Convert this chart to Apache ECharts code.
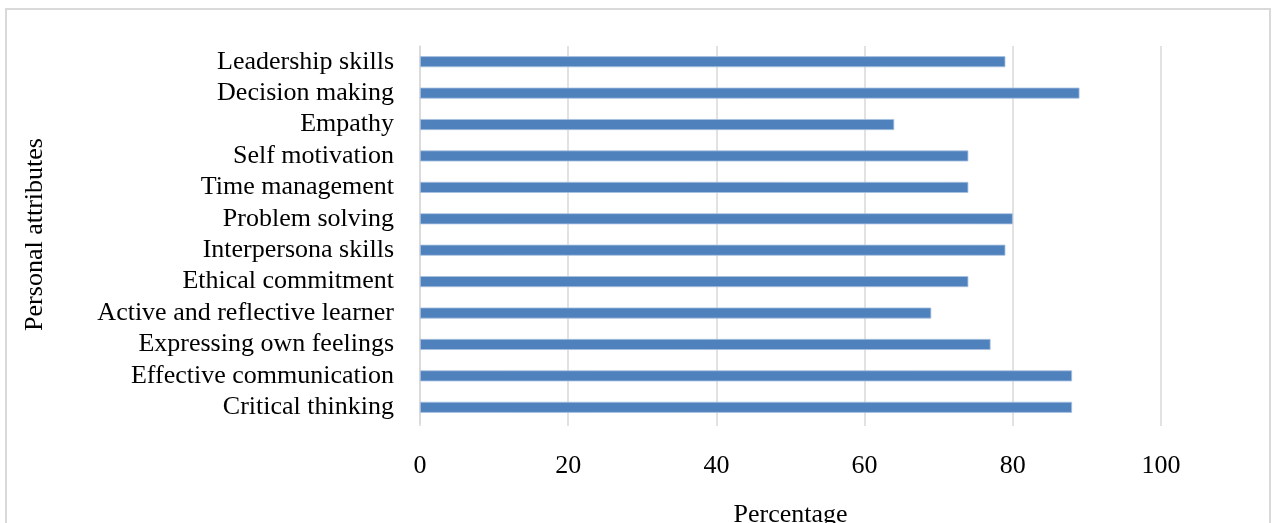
<!DOCTYPE html>
<html>
<head>
<meta charset="utf-8">
<script src="https://cdn.jsdelivr.net/npm/echarts@6/dist/echarts.min.js"></script>
<style>
  html, body { margin: 0; padding: 0; background: #fff; overflow: hidden; width: 1274px; height: 523px; }
  #frame { position: absolute; left: 5px; top: 8px; width: 1266px; height: 530px; border: 2px solid #d9d9d9; box-sizing: border-box; }
  #chart { position: absolute; left: 0; top: 0; width: 1274px; height: 523px; }
</style>
</head>
<body>
<div id="frame"></div>
<div id="chart"></div>
<script>
// Personal attributes, listed top to bottom
const categories = [
  'Leadership skills',
  'Decision making',
  'Empathy',
  'Self motivation',
  'Time management',
  'Problem solving',
  'Interpersona skills',
  'Ethical commitment',
  'Active and reflective learner',
  'Expressing own feelings',
  'Effective communication',
  'Critical thinking'
];
// Share of respondents (%)
const percentages = [79, 89, 64, 74, 74, 80, 79, 74, 69, 77, 88, 88];
const xTicks = [0, 20, 40, 60, 80, 100];

const font = '"Liberation Serif", "Times New Roman", serif';
const chart = echarts.init(document.getElementById('chart'), null, { renderer: 'canvas' });
chart.setOption({
  animation: false,
  backgroundColor: 'transparent',
  grid: { left: 420, right: 113, top: 46, bottom: 100, containLabel: false, outerBoundsMode: 'none' },
  xAxis: {
    type: 'value',
    min: xTicks[0],
    max: xTicks[xTicks.length - 1],
    interval: 20,
    name: 'Percentage',
    nameLocation: 'middle',
    nameGap: 79,
    nameTextStyle: { fontFamily: font, fontSize: 26, color: '#000' },
    axisLine: { show: false },
    axisTick: { show: true, length: 3, lineStyle: { color: '#d9d9d9', width: 1.5 } },
    axisLabel: { margin: 30, fontFamily: font, fontSize: 26, color: '#000' },
    splitLine: { show: true, lineStyle: { color: '#d9d9d9', width: 1.5 } }
  },
  yAxis: {
    type: 'category',
    data: categories,
    inverse: true,
    name: 'Personal attributes',
    nameLocation: 'middle',
    nameRotate: 90,
    nameGap: 372,
    nameTextStyle: { fontFamily: font, fontSize: 26, color: '#000' },
    axisLine: { show: true, lineStyle: { color: '#d9d9d9', width: 1.5 } },
    axisTick: { show: false },
    axisLabel: { interval: 0, margin: 26, fontFamily: font, fontSize: 26, color: '#000' },
    splitLine: { show: false }
  },
  series: [{
    type: 'bar',
    data: percentages,
    barWidth: 11,
    itemStyle: { color: '#4f81bd', borderColor: '#a9c1e0', borderWidth: 0.8 }
  }]
});
</script>
</body>
</html>
